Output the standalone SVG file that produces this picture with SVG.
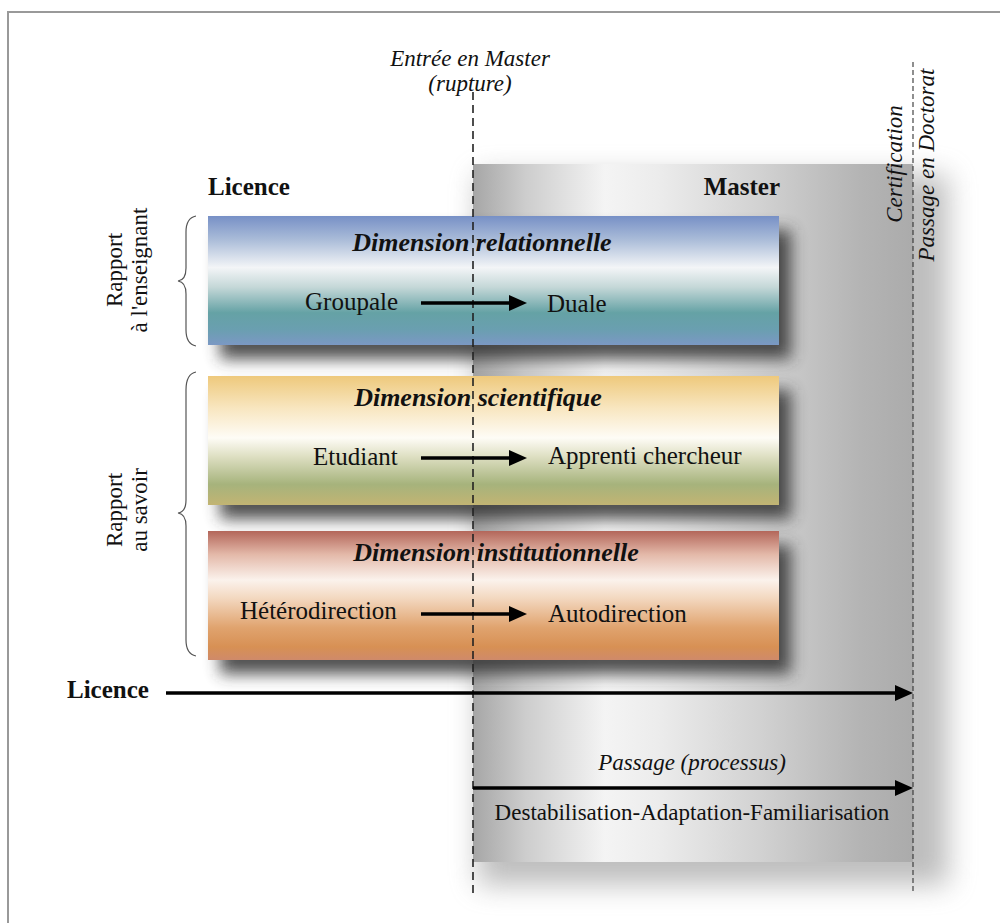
<svg xmlns="http://www.w3.org/2000/svg" width="1000" height="923" viewBox="0 0 1000 923">
<style>
text{font-family:"Liberation Serif","Times New Roman",serif;fill:#111}
.reg{font-size:25px}
.it{font-size:23px;font-style:italic}
.bold{font-size:25px;font-weight:bold}
.title{font-size:26px;font-weight:bold;font-style:italic}
.side{font-size:23px}
.arrow{stroke:#000;stroke-width:3.5;fill:none}
.brace{stroke:#555;stroke-width:1.2;fill:none}
</style>
<defs>
<filter id="sh" x="-20%" y="-40%" width="140%" height="180%"><feGaussianBlur stdDeviation="8"/></filter>
<filter id="sh2" x="-30%" y="-20%" width="160%" height="140%"><feGaussianBlur stdDeviation="14"/></filter>
<linearGradient id="gMaster" x1="0" y1="0" x2="1" y2="0">
<stop offset="0" stop-color="#a6a6a6"/>
<stop offset="0.12" stop-color="#cdcdcd"/>
<stop offset="0.3" stop-color="#f4f4f4"/>
<stop offset="0.42" stop-color="#ececec"/>
<stop offset="0.65" stop-color="#d2d2d2"/>
<stop offset="0.88" stop-color="#b4b4b4"/>
<stop offset="1" stop-color="#ababab"/>
</linearGradient>
<linearGradient id="g1" x1="0" y1="0" x2="0" y2="1">
<stop offset="0" stop-color="#7790c6"/>
<stop offset="0.18" stop-color="#a9bbd8"/>
<stop offset="0.4" stop-color="#f3f5f7"/>
<stop offset="0.55" stop-color="#c5d8d8"/>
<stop offset="0.75" stop-color="#65a2a5"/>
<stop offset="0.88" stop-color="#6a9fb0"/>
<stop offset="1" stop-color="#7b98c4"/>
</linearGradient>
<linearGradient id="g2" x1="0" y1="0" x2="0" y2="1">
<stop offset="0" stop-color="#eec97c"/>
<stop offset="0.25" stop-color="#f8e6c0"/>
<stop offset="0.48" stop-color="#fefcf6"/>
<stop offset="0.62" stop-color="#dfe0c4"/>
<stop offset="0.84" stop-color="#a6b37c"/>
<stop offset="1" stop-color="#c2b473"/>
</linearGradient>
<linearGradient id="g3" x1="0" y1="0" x2="0" y2="1">
<stop offset="0" stop-color="#b3665a"/>
<stop offset="0.18" stop-color="#e3b8a8"/>
<stop offset="0.38" stop-color="#fbf2ec"/>
<stop offset="0.52" stop-color="#f3d8c0"/>
<stop offset="0.75" stop-color="#e0a36e"/>
<stop offset="0.9" stop-color="#d79054"/>
<stop offset="1" stop-color="#cf8a6a"/>
</linearGradient>
<marker id="ah" viewBox="0 0 18 16" refX="8" refY="8" markerWidth="18" markerHeight="16" orient="auto" markerUnits="userSpaceOnUse">
<path d="M0,0 L18,8 L0,16 Z" fill="#000"/>
</marker>
</defs>

<g id="frame">
<path d="M8,1000 V12 H1000" fill="none" stroke="#999" stroke-width="2"/>
</g>

<g id="master-zone">
<rect x="478" y="175" width="470" height="710" fill="#888" opacity="0.55" filter="url(#sh2)"/>
<rect x="473" y="164" width="440" height="698" fill="url(#gMaster)"/>
<text class="bold" x="780" y="195" text-anchor="end">Master</text>
</g>

<g id="licence-title">
<text class="bold" x="208" y="195">Licence</text>
</g>

<g id="band-relationnelle">
<rect x="220" y="230" width="571" height="129" fill="#333" opacity="0.85" filter="url(#sh)"/>
<rect x="208" y="216" width="571" height="129" fill="url(#g1)"/>
<text class="title" x="482" y="251" text-anchor="middle">Dimension relationnelle</text>
<text class="reg" x="305" y="310">Groupale</text>
<text class="reg" x="547" y="312">Duale</text>
</g>

<g id="band-scientifique">
<rect x="220" y="390" width="571" height="129" fill="#333" opacity="0.85" filter="url(#sh)"/>
<rect x="208" y="376" width="571" height="129" fill="url(#g2)"/>
<text class="title" x="478" y="406" text-anchor="middle">Dimension scientifique</text>
<text class="reg" x="313" y="465">Etudiant</text>
<text class="reg" x="548" y="464">Apprenti chercheur</text>
</g>

<g id="band-institutionnelle">
<rect x="220" y="545" width="571" height="129" fill="#333" opacity="0.85" filter="url(#sh)"/>
<rect x="208" y="531" width="571" height="129" fill="url(#g3)"/>
<text class="title" x="496" y="561" text-anchor="middle">Dimension institutionnelle</text>
<text class="reg" x="240" y="619">Hétérodirection</text>
<text class="reg" x="548" y="622">Autodirection</text>
</g>

<g id="rapport-enseignant">
<path class="brace" d="M196,216 Q186,218 186,232 V268 Q186,280 178,281 Q186,282 186,294 V330 Q186,344 196,346"/>
<text class="side" transform="translate(122,270) rotate(-90)" text-anchor="middle">Rapport</text>
<text class="side" transform="translate(147,270) rotate(-90)" text-anchor="middle">à l'enseignant</text>
</g>

<g id="rapport-savoir">
<path class="brace" d="M196,372 Q186,374 186,390 V500 Q186,512 178,513 Q186,514 186,526 V640 Q186,654 196,656"/>
<text class="side" transform="translate(122,510) rotate(-90)" text-anchor="middle">Rapport</text>
<text class="side" transform="translate(147,510) rotate(-90)" text-anchor="middle">au savoir</text>
</g>

<g id="entree-master">
<text class="it" x="470" y="66" text-anchor="middle">Entrée en Master</text>
<text class="it" x="470" y="91" text-anchor="middle">(rupture)</text>
</g>

<g id="certification">
<text class="it" transform="translate(902,164) rotate(-90)" text-anchor="middle">Certification</text>
<text class="it" transform="translate(934,165) rotate(-90)" text-anchor="middle">Passage en Doctorat</text>
</g>

<g id="licence-axis">
<text class="bold" x="67" y="698">Licence</text>
</g>

<g id="passage">
<text class="it" x="692" y="770" text-anchor="middle">Passage (processus)</text>
<text class="it" x="692" y="820" text-anchor="middle" style="font-style:normal">Destabilisation-Adaptation-Familiarisation</text>
</g>

<g id="connectors">
<line x1="473" y1="92" x2="473" y2="895" stroke="#222" stroke-width="1.6" stroke-dasharray="8,5"/>
<line x1="913" y1="62" x2="913" y2="893" stroke="#333" stroke-width="1.1" stroke-dasharray="5,3"/>
<line class="arrow" x1="421" y1="303" x2="517" y2="303" marker-end="url(#ah)"/>
<line class="arrow" x1="421" y1="458" x2="517" y2="458" marker-end="url(#ah)"/>
<line class="arrow" x1="421" y1="614" x2="517" y2="614" marker-end="url(#ah)"/>
<line class="arrow" x1="166" y1="693" x2="903" y2="693" marker-end="url(#ah)"/>
<line class="arrow" x1="473" y1="788" x2="903" y2="788" marker-end="url(#ah)"/>
</g>
</svg>
